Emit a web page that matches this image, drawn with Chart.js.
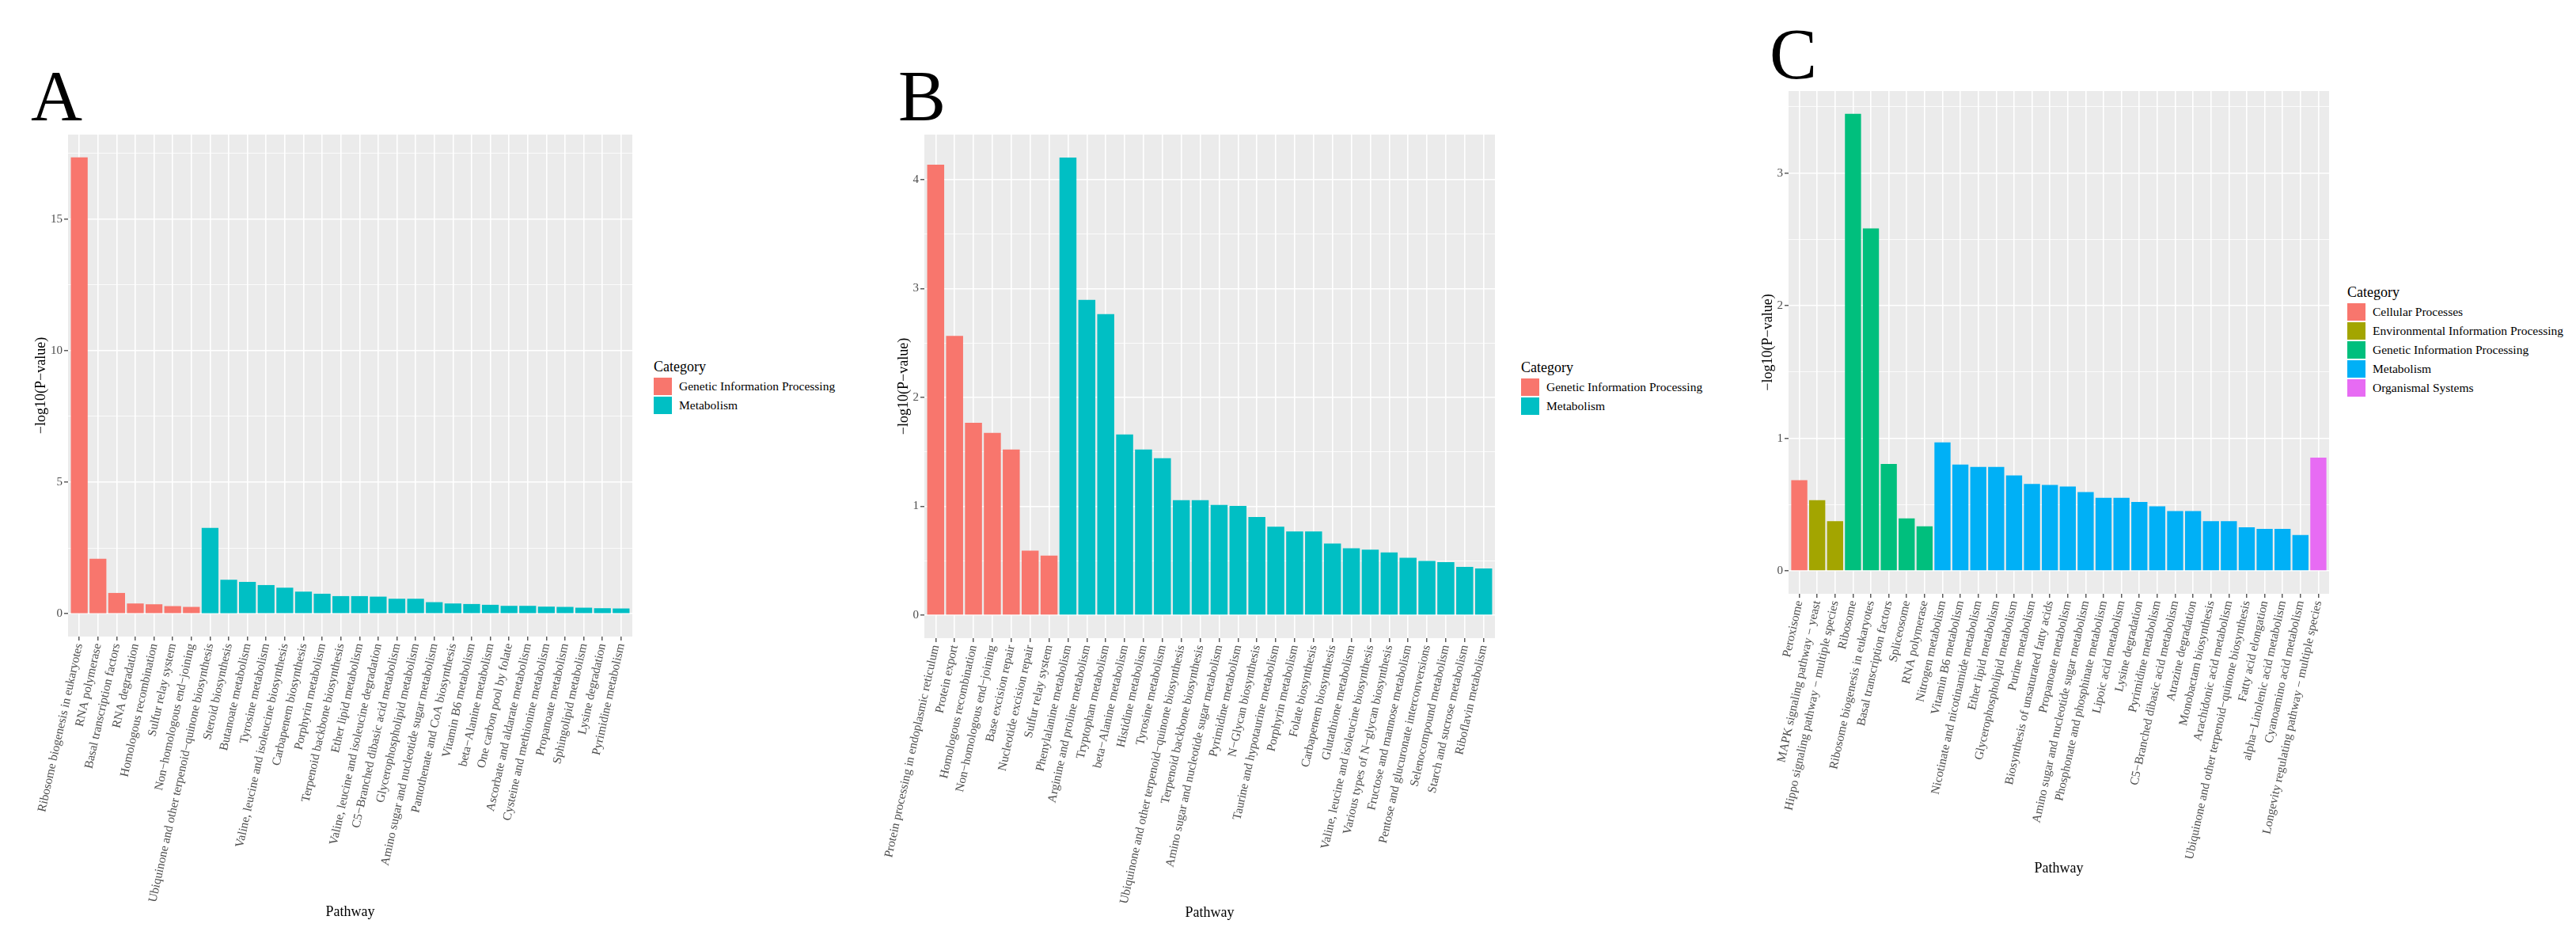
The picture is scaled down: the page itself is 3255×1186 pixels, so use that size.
<!DOCTYPE html>
<html>
<head>
<meta charset="utf-8">
<title>KEGG pathway enrichment</title>
<script src="https://cdn.jsdelivr.net/npm/chart.js@4.4.0/dist/chart.umd.min.js"></script>
<style>
  html, body { margin: 0; padding: 0; background: #ffffff; }
  #page { position: relative; width: 3255px; height: 1186px; overflow: hidden; font-family: 'Liberation Serif', 'Times New Roman', serif; }
  .panel { position: absolute; top: 0; height: 1186px; }
  .letter { position: absolute; font-size: 90px; line-height: 90px; color: #000; }
  .legend { position: absolute; color: #000; }
  .legend .ttl { font-size: 18px; line-height: 26px; height: 26px; white-space: nowrap; }
  .legend .row { height: 24px; display: flex; align-items: center; white-space: nowrap; font-size: 15.5px; }
  .legend .key { width: 23px; height: 22px; margin-right: 9px; }
</style>
</head>
<body>
<div id="page">
  <div class="letter" style="left:39px;top:77px">A</div>
  <div class="letter" style="left:1135px;top:77px">B</div>
  <div class="letter" style="left:2236px;top:24px">C</div>
  <div class="panel" id="boxA"><canvas id="chartA"></canvas></div>
  <div class="panel" id="boxB"><canvas id="chartB"></canvas></div>
  <div class="panel" id="boxC"><canvas id="chartC"></canvas></div>
  <div class="legend" id="legA"></div>
  <div class="legend" id="legB"></div>
  <div class="legend" id="legC"></div>
</div>
<script>
// ---- datos panel A ----
const pathwaysA = [
  'Ribosome biogenesis in eukaryotes', 'RNA polymerase', 'Basal transcription factors',
  'RNA degradation', 'Homologous recombination', 'Sulfur relay system',
  'Non−homologous end−joining', 'Ubiquinone and other terpenoid−quinone biosynthesis',
  'Steroid biosynthesis', 'Butanoate metabolism', 'Tyrosine metabolism',
  'Valine, leucine and isoleucine biosynthesis', 'Carbapenem biosynthesis',
  'Porphyrin metabolism', 'Terpenoid backbone biosynthesis', 'Ether lipid metabolism',
  'Valine, leucine and isoleucine degradation', 'C5−Branched dibasic acid metabolism',
  'Glycerophospholipid metabolism', 'Amino sugar and nucleotide sugar metabolism',
  'Pantothenate and CoA biosynthesis', 'Vitamin B6 metabolism', 'beta−Alanine metabolism',
  'One carbon pool by folate', 'Ascorbate and aldarate metabolism',
  'Cysteine and methionine metabolism', 'Propanoate metabolism', 'Sphingolipid metabolism',
  'Lysine degradation', 'Pyrimidine metabolism'
];
const categoryA = [
  'Genetic Information Processing', 'Genetic Information Processing', 'Genetic Information Processing',
  'Genetic Information Processing', 'Genetic Information Processing', 'Genetic Information Processing',
  'Genetic Information Processing',
  'Metabolism', 'Metabolism', 'Metabolism', 'Metabolism', 'Metabolism', 'Metabolism', 'Metabolism',
  'Metabolism', 'Metabolism', 'Metabolism', 'Metabolism', 'Metabolism', 'Metabolism', 'Metabolism',
  'Metabolism', 'Metabolism', 'Metabolism', 'Metabolism', 'Metabolism', 'Metabolism', 'Metabolism',
  'Metabolism', 'Metabolism'
];
const valuesA = [17.34, 2.09, 0.79, 0.39, 0.36, 0.29, 0.26, 3.26, 1.29, 1.21, 1.09, 0.99, 0.84, 0.76,
  0.67, 0.67, 0.65, 0.57, 0.57, 0.44, 0.39, 0.37, 0.34, 0.30, 0.30, 0.27, 0.26, 0.23, 0.21, 0.20];
const yMajorA = [0, 5, 10, 15];
const yMinorA = [2.5, 7.5, 12.5, 17.5];

// ---- datos panel B ----
const pathwaysB = [
  'Protein processing in endoplasmic reticulum', 'Protein export', 'Homologous recombination',
  'Non−homologous end−joining', 'Base excision repair', 'Nucleotide excision repair',
  'Sulfur relay system', 'Phenylalanine metabolism', 'Arginine and proline metabolism',
  'Tryptophan metabolism', 'beta−Alanine metabolism', 'Histidine metabolism',
  'Tyrosine metabolism', 'Ubiquinone and other terpenoid−quinone biosynthesis',
  'Terpenoid backbone biosynthesis', 'Amino sugar and nucleotide sugar metabolism',
  'Pyrimidine metabolism', 'N−Glycan biosynthesis', 'Taurine and hypotaurine metabolism',
  'Porphyrin metabolism', 'Folate biosynthesis', 'Carbapenem biosynthesis',
  'Glutathione metabolism', 'Valine, leucine and isoleucine biosynthesis',
  'Various types of N−glycan biosynthesis', 'Fructose and mannose metabolism',
  'Pentose and glucuronate interconversions', 'Selenocompound metabolism',
  'Starch and sucrose metabolism', 'Riboflavin metabolism'
];
const categoryB = [
  'Genetic Information Processing', 'Genetic Information Processing', 'Genetic Information Processing',
  'Genetic Information Processing', 'Genetic Information Processing', 'Genetic Information Processing',
  'Genetic Information Processing',
  'Metabolism', 'Metabolism', 'Metabolism', 'Metabolism', 'Metabolism', 'Metabolism', 'Metabolism',
  'Metabolism', 'Metabolism', 'Metabolism', 'Metabolism', 'Metabolism', 'Metabolism', 'Metabolism',
  'Metabolism', 'Metabolism', 'Metabolism', 'Metabolism', 'Metabolism', 'Metabolism', 'Metabolism',
  'Metabolism', 'Metabolism'
];
const valuesB = [4.137, 2.566, 1.767, 1.675, 1.522, 0.594, 0.548, 4.204, 2.897, 2.765, 1.660, 1.522,
  1.442, 1.056, 1.056, 1.013, 1.004, 0.903, 0.814, 0.769, 0.769, 0.658, 0.615, 0.603, 0.576, 0.527,
  0.499, 0.487, 0.444, 0.429];
const yMajorB = [0, 1, 2, 3, 4];
const yMinorB = [0.5, 1.5, 2.5, 3.5];

// ---- datos panel C ----
const pathwaysC = [
  'Peroxisome', 'MAPK signaling pathway − yeast', 'Hippo signaling pathway − multiple species',
  'Ribosome', 'Ribosome biogenesis in eukaryotes', 'Basal transcription factors', 'Spliceosome',
  'RNA polymerase', 'Nitrogen metabolism', 'Vitamin B6 metabolism',
  'Nicotinate and nicotinamide metabolism', 'Ether lipid metabolism',
  'Glycerophospholipid metabolism', 'Purine metabolism', 'Biosynthesis of unsaturated fatty acids',
  'Propanoate metabolism', 'Amino sugar and nucleotide sugar metabolism',
  'Phosphonate and phosphinate metabolism', 'Lipoic acid metabolism', 'Lysine degradation',
  'Pyrimidine metabolism', 'C5−Branched dibasic acid metabolism', 'Atrazine degradation',
  'Monobactam biosynthesis', 'Arachidonic acid metabolism',
  'Ubiquinone and other terpenoid−quinone biosynthesis', 'Fatty acid elongation',
  'alpha−Linolenic acid metabolism', 'Cyanoamino acid metabolism',
  'Longevity regulating pathway − multiple species'
];
const categoryC = [
  'Cellular Processes',
  'Environmental Information Processing', 'Environmental Information Processing',
  'Genetic Information Processing', 'Genetic Information Processing', 'Genetic Information Processing',
  'Genetic Information Processing', 'Genetic Information Processing',
  'Metabolism', 'Metabolism', 'Metabolism', 'Metabolism', 'Metabolism', 'Metabolism', 'Metabolism',
  'Metabolism', 'Metabolism', 'Metabolism', 'Metabolism', 'Metabolism', 'Metabolism', 'Metabolism',
  'Metabolism', 'Metabolism', 'Metabolism', 'Metabolism', 'Metabolism', 'Metabolism', 'Metabolism',
  'Organismal Systems'
];
const valuesC = [0.684, 0.534, 0.375, 3.447, 2.584, 0.807, 0.396, 0.337, 0.970, 0.802, 0.784, 0.784,
  0.720, 0.656, 0.648, 0.636, 0.595, 0.551, 0.551, 0.521, 0.488, 0.452, 0.452, 0.375, 0.375, 0.329,
  0.317, 0.317, 0.271, 0.855];
const yMajorC = [0, 1, 2, 3];
const yMinorC = [0.5, 1.5, 2.5, 3.5];

// categorias y colores (paleta por defecto de ggplot)
const catNames2 = ['Genetic Information Processing', 'Metabolism'];
const catColors2 = ['#F8766D', '#00BFC4'];
const catNames5 = ['Cellular Processes', 'Environmental Information Processing',
  'Genetic Information Processing', 'Metabolism', 'Organismal Systems'];
const catColors5 = ['#F8766D', '#A3A500', '#00BF7D', '#00B0F6', '#E76BF3'];

Chart.defaults.font.family = "'Liberation Serif', 'Times New Roman', serif";
Chart.defaults.color = '#4D4D4D';

// fondo gris del panel (como theme_grey)
const panelBg = {
  id: 'panelBg',
  beforeDraw(chart) {
    const { ctx, chartArea: a } = chart;
    ctx.save();
    ctx.fillStyle = '#EBEBEB';
    ctx.fillRect(a.left, a.top, a.right - a.left, a.bottom - a.top);
    ctx.restore();
  }
};

function renderPanel(cfg) {
  const box = document.getElementById(cfg.box);
  box.style.left = cfg.left + 'px';
  box.style.width = cfg.width + 'px';

  const allTicks = cfg.yMajor.concat(cfg.yMinor).sort((a, b) => a - b);
  const isMajor = v => cfg.yMajor.includes(v);
  const top = Math.max(...cfg.values);

  new Chart(document.getElementById(cfg.canvas), {
    type: 'bar',
    data: {
      datasets: [{
        data: cfg.values.map((v, i) => ({ x: i, y: v })),
        backgroundColor: cfg.cats.map(c => cfg.colors[cfg.names.indexOf(c)]),
        borderWidth: 0,
        barPercentage: 0.9,
        categoryPercentage: 1
      }]
    },
    options: {
      responsive: true,
      maintainAspectRatio: false,
      animation: false,
      devicePixelRatio: 1,
      layout: { padding: { top: cfg.plotTop, right: cfg.padRight, left: 0, bottom: 0 } },
      plugins: { legend: { display: false }, tooltip: { enabled: false } },
      scales: {
        x: {
          type: 'linear',
          min: -0.6,
          max: cfg.pathways.length - 0.4,
          offset: false,
          afterBuildTicks: s => { s.ticks = cfg.pathways.map((p, i) => ({ value: i })); },
          afterFit: s => { s.height = 1186 - cfg.plotBottom; s.paddingLeft = 0; s.paddingRight = 0; },
          ticks: {
            autoSkip: false,
            minRotation: 77.5,
            maxRotation: 77.5,
            padding: 2,
            color: '#4D4D4D',
            font: { size: 15.4 },
            callback: v => cfg.pathways[v]
          },
          grid: { offset: false, color: '#FFFFFF', lineWidth: 1.6, tickColor: '#333333', tickLength: 5, tickWidth: 1.2 },
          border: { display: false },
          title: { display: true, text: 'Pathway', color: '#000000', font: { size: 18 }, padding: { top: 0, bottom: cfg.xTitlePad } }
        },
        y: {
          min: -0.05 * top,
          max: 1.05 * top,
          afterBuildTicks: s => { s.ticks = allTicks.map(v => ({ value: v })); },
          afterFit: s => { s.width = cfg.yAxisWidth; s.paddingTop = 0; s.paddingBottom = 0; },
          ticks: {
            autoSkip: false,
            padding: 2,
            color: '#4D4D4D',
            font: { size: 15 },
            callback: v => (isMajor(v) ? String(v) : '')
          },
          grid: {
            color: '#FFFFFF',
            lineWidth: c => (c.tick && isMajor(c.tick.value) ? 1.6 : 0.8),
            tickColor: c => (c.tick && isMajor(c.tick.value) ? '#333333' : 'rgba(0,0,0,0)'),
            tickLength: 5,
            tickWidth: 1.2
          },
          border: { display: false },
          title: { display: true, text: '−log10(P−value)', color: '#000000', font: { size: 18 }, padding: { top: cfg.yTitlePad, bottom: 0 } }
        }
      }
    },
    plugins: [panelBg]
  });
}

function renderLegend(id, left, top, names, colors) {
  const el = document.getElementById(id);
  el.style.left = left + 'px';
  el.style.top = top + 'px';
  let html = '<div class="ttl">Category</div>';
  names.forEach((n, i) => {
    html += '<div class="row"><div class="key" style="background:' + colors[i] + '"></div>' + n + '</div>';
  });
  el.innerHTML = html;
}

renderPanel({ box: 'boxA', canvas: 'chartA', pathways: pathwaysA, cats: categoryA, values: valuesA,
  names: catNames2, colors: catColors2, yMajor: yMajorA, yMinor: yMinorA,
  left: 0, width: 819, padRight: 20, yAxisWidth: 86, plotTop: 170, plotBottom: 804, yTitlePad: 41, xTitlePad: 23 });

renderPanel({ box: 'boxB', canvas: 'chartB', pathways: pathwaysB, cats: categoryB, values: valuesB,
  names: catNames2, colors: catColors2, yMajor: yMajorB, yMinor: yMinorB,
  left: 1060, width: 849, padRight: 20, yAxisWidth: 108, plotTop: 170, plotBottom: 806, yTitlePad: 71, xTitlePad: 22 });

renderPanel({ box: 'boxC', canvas: 'chartC', pathways: pathwaysC, cats: categoryC, values: valuesC,
  names: catNames5, colors: catColors5, yMajor: yMajorC, yMinor: yMinorC,
  left: 2180, width: 783, padRight: 20, yAxisWidth: 80, plotTop: 115, plotBottom: 750, yTitlePad: 43, xTitlePad: 78 });

renderLegend('legA', 826, 450, catNames2, catColors2);
renderLegend('legB', 1922, 451, catNames2, catColors2);
renderLegend('legC', 2966, 356, catNames5, catColors5);
</script>
</body>
</html>
